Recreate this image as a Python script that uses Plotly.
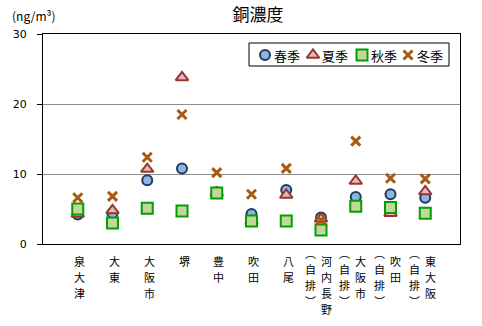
import plotly.graph_objects as go

# ---- data ----
categories = ["泉大津", "大東", "大阪市", "堺", "豊中", "吹田", "八尾",
              "河内長野（自排）", "大阪市（自排）", "吹田（自排）", "東大阪（自排）"]
spring = [4.2, 4.4, 9.1, 10.8, 7.4, 4.3, 7.7, 3.8, 6.7, 7.1, 6.6]
summer = [4.3, 4.8, 10.7, 23.8, 7.3, 3.3, 7.0, 3.6, 9.0, 4.4, 7.5]
autumn = [5.0, 3.0, 5.1, 4.7, 7.3, 3.3, 3.3, 2.0, 5.4, 5.2, 4.4]
winter = [6.6, 6.8, 12.4, 18.5, 10.2, 7.1, 10.8, 3.4, 14.7, 9.4, 9.3]
series_names = ["春季", "夏季", "秋季", "冬季"]
y_ticks = [0, 10, 20, 30]

W, H = 482, 326
L, R, T, B = 43, 460, 34, 244  # plot area in pixels
CJK = "Noto Sans CJK JP"

xs = list(range(1, len(categories) + 1))

styles = [
    dict(symbol="circle", size=10, color="#8DB4E2", line=dict(color="#1F3A5F", width=2)),
    dict(symbol="triangle-up", size=11, color="#E6B9B8", line=dict(color="#953735", width=2)),
    dict(symbol="square", size=11, color="#C3D69B", line=dict(color="#00A000", width=2)),
    dict(symbol="x-thin", size=9, color="#A85A12", line=dict(color="#A85A12", width=3)),
]

fig = go.Figure()
for name, vals, st in zip(series_names, [spring, summer, autumn, winter], styles):
    fig.add_trace(go.Scatter(x=xs, y=vals, mode="markers", name=name,
                             marker=st, showlegend=False, cliponaxis=False))

# ---- custom legend (overlay axes in pixel units) ----
leg_x = [265, 313, 362, 408]
leg_y = 55
for i, (name, st) in enumerate(zip(series_names, styles)):
    fig.add_trace(go.Scatter(x=[leg_x[i]], y=[leg_y], mode="markers", marker=st,
                             xaxis="x2", yaxis="y2", showlegend=False, hoverinfo="skip"))

def px(xp):
    return (xp - L) / (R - L)

def py(yp):
    return (B - yp) / (B - T)

annotations = []
for i, name in enumerate(series_names):
    annotations.append(dict(text=name, x=px(leg_x[i] + 7), y=py(leg_y), xref="paper", yref="paper",
                            xanchor="left", yanchor="middle", showarrow=False,
                            font=dict(family=CJK, size=13, color="#000")))

shapes = [dict(type="rect", xref="paper", yref="paper", x0=px(249), x1=px(449),
               y0=py(66), y1=py(43), line=dict(color="#000", width=1), fillcolor="white",
               layer="below")]

# ---- category labels (vertical text, columns right-to-left) ----
FS = 11
STEP = 16
for x, name in zip(xs, categories):
    if "（" in name:
        main, sub = name.split("（")
        sub = sub.rstrip("）")
        cols = [(main, 5, 261), ("︵" + sub + "︶", -11, 253)]
    else:
        cols = [(name, 2, 261)]
    for text, dx, first in cols:
        for k, ch in enumerate(text):
            c = first + k * STEP
            annotations.append(dict(text=ch, x=x, xref="x", y=0, yref="paper",
                                    xshift=dx, yshift=-(c - B), xanchor="center",
                                    yanchor="middle", showarrow=False,
                                    font=dict(family=CJK, size=FS, color="#000")))

annotations.append(dict(text="(ng/m³)", x=px(10), y=py(15), xref="paper", yref="paper",
                        xanchor="left", yanchor="middle", showarrow=False,
                        font=dict(family=CJK, size=12, color="#000")))

fig.update_layout(
    width=W, height=H,
    margin=dict(l=L, r=W - R, t=T, b=H - B, pad=0),
    paper_bgcolor="white", plot_bgcolor="white",
    title=dict(text="銅濃度", x=258 / W, xanchor="center", y=1 - 15 / H, yanchor="middle",
               font=dict(family=CJK, size=17, color="#000")),
    xaxis=dict(range=[0, 12], showticklabels=False, ticks="", showgrid=False, zeroline=False,
               showline=True, linecolor="#000", linewidth=1, mirror=True, fixedrange=True),
    yaxis=dict(range=[0, 30], tickvals=y_ticks, ticks="outside", ticklen=5, tickcolor="#000",
               showgrid=True, gridcolor="#8C8C8C", gridwidth=1, zeroline=False,
               showline=True, linecolor="#000", linewidth=1, mirror=True,
               ticklabelstandoff=8,
               tickfont=dict(family="DejaVu Sans", size=11, color="#000")),
    xaxis2=dict(range=[L, R], overlaying="x", anchor="y2", visible=False, domain=[0, 1]),
    yaxis2=dict(range=[B, T], overlaying="y", anchor="x2", visible=False, domain=[0, 1]),
    annotations=annotations,
    shapes=shapes,
    showlegend=False,
)

fig.write_html("out.html")
